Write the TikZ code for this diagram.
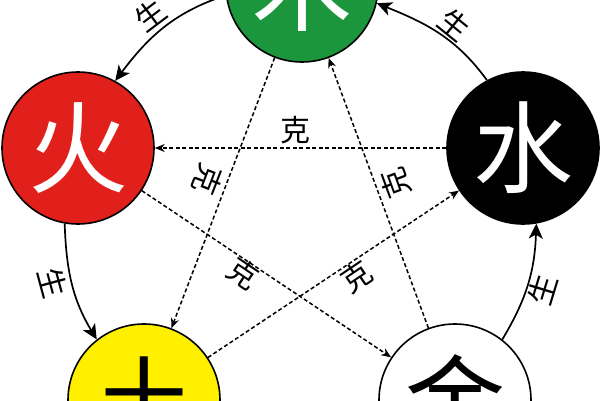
\documentclass[tikz,border=0pt]{standalone}
\usepackage{fontspec}
\newfontfamily\cjk{Noto Sans CJK SC}
\usetikzlibrary{arrows.meta}
\definecolor{woodgreen}{RGB}{28,150,60}
\definecolor{firered}{RGB}{225,32,28}
\definecolor{earthyellow}{RGB}{255,240,0}
\begin{document}
\begin{tikzpicture}[x=1pt,y=1pt,
  elem/.style={circle,draw=black,line width=1.6pt,minimum size=152pt,inner sep=0pt,
    font=\cjk\fontsize{100}{100}\selectfont},
  sheng/.style={line width=1.7pt,-{Stealth[length=15pt,width=14pt,inset=4pt]}},
  ke/.style={line width=1.5pt,dash pattern=on 4pt off 2.5pt,-{Stealth[length=10pt,width=8pt]}},
  lbl/.style={font=\cjk\fontsize{30}{30}\selectfont,inner sep=0pt}]
\useasboundingbox (0,0) rectangle (600,400);
\fill[white] (0,0) rectangle (600,400);
% elements
\node[elem,fill=woodgreen,text=white] (mu) at (302,414) {木};
\node[elem,fill=firered,text=white] (huo) at (78,252) {火};
\node[elem,fill=black,text=white] (shui) at (523,252) {水};
\node[elem,fill=earthyellow,text=black] (tu) at (144,0) {土};
\node[elem,fill=white,text=black] (jin) at (455,0) {金};
% generating cycle
\draw[sheng] (mu.187) to[out=198,in=53] (huo.61);
\draw[sheng] (huo.260) to[out=272,in=121] (tu.128);
\draw[sheng] (jin.52) to[out=59,in=268] (shui.280);
\draw[sheng] (shui.118) to[out=126,in=338] (mu.347);
\node[lbl,rotate=37] (s1) at (150,385) {生};
\node[lbl,rotate=-75] (s2) at (53,117) {生};
\node[lbl,rotate=73] (s4) at (543,110) {生};
\node[lbl,rotate=-39] (s5) at (455,375) {生};
% controlling cycle
\draw[ke] (shui) -- (huo);
\draw[ke] (mu) -- (tu);
\draw[ke] (jin) -- (mu);
\draw[ke] (huo) -- (jin);
\draw[ke] (tu) -- (shui);
\node[lbl] (k1) at (295,270) {克};
\node[lbl,rotate=-111] (k2) at (208,220) {克};
\node[lbl,rotate=110] (k3) at (396,217) {克};
\node[lbl,rotate=-34] (k4) at (243,127) {克};
\node[lbl,rotate=34] (k5) at (357,123) {克};
\end{tikzpicture}
\end{document}
